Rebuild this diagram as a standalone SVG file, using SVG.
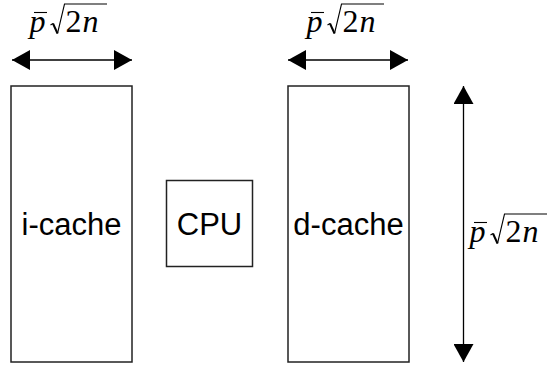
<svg xmlns="http://www.w3.org/2000/svg" width="549" height="367" viewBox="0 0 549 367">
<style>
.box{fill:#fff;stroke:#222;stroke-width:1.5}
.lbl{font-family:"Liberation Sans",Arial,sans-serif;font-size:31px;fill:#000;text-anchor:middle}
.dim{stroke:#000;stroke-width:1.3;fill:none}
.m{font-family:"Liberation Serif","Times New Roman",serif;font-size:32px;fill:#000}
.it{font-style:italic}
.rule{stroke:#000;stroke-width:1.1;fill:none}
</style>
<defs>
<marker id="ah" markerUnits="userSpaceOnUse" markerWidth="18" markerHeight="20" refX="18" refY="10" orient="auto-start-reverse" viewBox="0 0 18 20">
<path d="M0,0 L18,10 L0,20 z" fill="#000"/>
</marker>
</defs>
<g id="icache"><rect class="box" x="11" y="86" width="121" height="276"/><text class="lbl" x="71.5" y="235">i-cache</text></g>
<g id="cpu"><rect class="box" x="166.5" y="180.5" width="86" height="86"/><text class="lbl" x="209.5" y="235">CPU</text></g>
<g id="dcache"><rect class="box" x="288" y="86" width="121" height="276"/><text class="lbl" x="348.5" y="235">d-cache</text></g>
<g id="connectors">
<line class="dim" x1="12" y1="60" x2="132" y2="60" marker-start="url(#ah)" marker-end="url(#ah)"/>
<line class="dim" x1="288" y1="60" x2="408" y2="60" marker-start="url(#ah)" marker-end="url(#ah)"/>
<line class="dim" x1="463.5" y1="86" x2="463.5" y2="362" marker-start="url(#ah)" marker-end="url(#ah)"/>
</g>
<g id="label-top-left">
<text class="m it" x="29.5" y="32">p</text>
<line class="rule" x1="34" y1="12.5" x2="47" y2="12.5"/>
<path class="rule" d="M50.5,25 L53,23.5 M57.5,33.5 L64.5,4 H107"/>
<path d="M53,23.5 L57.5,33.5" stroke="#000" stroke-width="2" fill="none"/>
<text class="m" x="65.5" y="32">2</text>
<text class="m it" x="82.5" y="32">n</text>
</g>
<g id="label-top-right" transform="translate(277,0)">
<text class="m it" x="29.5" y="32">p</text>
<line class="rule" x1="34" y1="12.5" x2="47" y2="12.5"/>
<path class="rule" d="M50.5,25 L53,23.5 M57.5,33.5 L64.5,4 H107"/>
<path d="M53,23.5 L57.5,33.5" stroke="#000" stroke-width="2" fill="none"/>
<text class="m" x="65.5" y="32">2</text>
<text class="m it" x="82.5" y="32">n</text>
</g>
<g id="label-side" transform="translate(440,210)">
<text class="m it" x="29.5" y="32">p</text>
<line class="rule" x1="34" y1="12.5" x2="47" y2="12.5"/>
<path class="rule" d="M50.5,25 L53,23.5 M57.5,33.5 L64.5,4 H107"/>
<path d="M53,23.5 L57.5,33.5" stroke="#000" stroke-width="2" fill="none"/>
<text class="m" x="65.5" y="32">2</text>
<text class="m it" x="82.5" y="32">n</text>
</g>
</svg>
